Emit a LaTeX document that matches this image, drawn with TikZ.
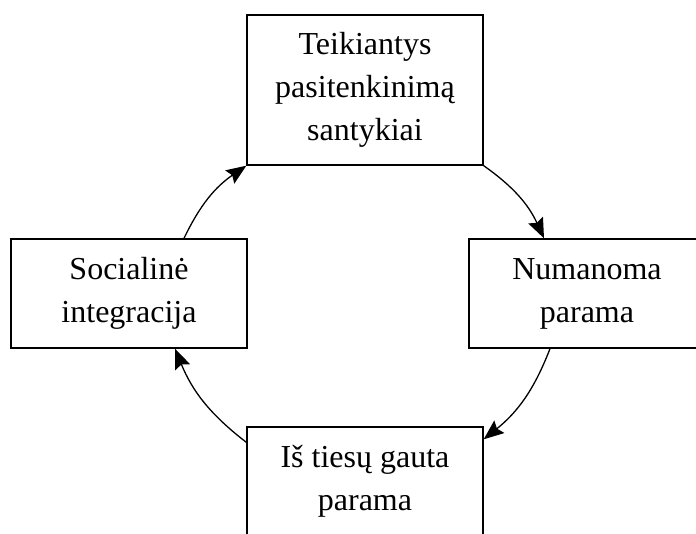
\documentclass[tikz,border=0pt]{standalone}
\usepackage{fontspec}
\setmainfont{Liberation Serif}
\usetikzlibrary{arrows.meta}

\begin{document}
\begin{tikzpicture}[
  x=1pt, y=-1pt,
  box/.style={draw, line width=1.4pt, minimum width=236pt, minimum height=109pt,
              align=center, inner sep=0pt, font=\fontsize{32}{43}\selectfont},
  edge/.style={-{Stealth[length=20pt, width=16pt, inset=3pt]}, line width=1.3pt}
]
  \useasboundingbox (0,0) rectangle (696,533);
  \clip (0,0) rectangle (696,533);

  \node[box, minimum height=150pt] (santykiai) at (365,90) {Teikiantys\\pasitenkinimą\\santykiai};
  \node[box] (integracija) at (129,293.5) {Socialinė\\integracija};
  \node[box] (numanoma) at (587,293.5) {Numanoma\\parama};
  \node[box] (gauta) at (365,481.5) {Iš tiesų gauta\\parama};

  \draw[edge] ([xshift=55pt]integracija.north) to[bend left=15] (santykiai.south west);
  \draw[edge] (santykiai.south east) to[bend left=15] ([xshift=-43pt]numanoma.north);
  \draw[edge] ([xshift=-37pt]numanoma.south) to[bend left=15] ([yshift=-13pt]gauta.north east);
  \draw[edge] ([yshift=-16pt]gauta.north west) to[bend left=15] ([xshift=46pt]integracija.south);
\end{tikzpicture}
\end{document}
